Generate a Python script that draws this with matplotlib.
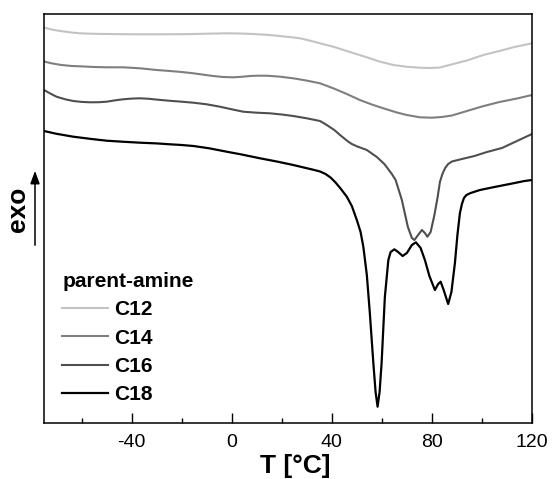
import matplotlib
matplotlib.use("Agg")
import matplotlib.pyplot as plt
from matplotlib.ticker import MultipleLocator, FixedLocator

plt.rcParams['font.family'] = ['Liberation Sans', 'DejaVu Sans']
plt.rcParams['axes.unicode_minus'] = False

# DSC heating traces (heat flow, arbitrary units, curves offset vertically)
t_c12 = [-75, -72, -68.6, -64, -60.6, -55, -50, -43, -36.6, -28.6, -20, -15.3, -8, -2,
         3, 8.6, 14, 18, 23, 27.3, 31, 35.3, 40.6, 47, 54, 59, 64.6, 70, 75.2, 79, 83,
         87, 94, 100.5, 107, 113, 120]
hf_c12 = [-2.75, -2.95, -3.10, -3.25, -3.33, -3.38, -3.40, -3.42, -3.43, -3.43, -3.42,
          -3.40, -3.36, -3.33, -3.35, -3.40, -3.48, -3.57, -3.70, -3.83, -4.05, -4.33,
          -4.67, -5.18, -5.73, -6.15, -6.50, -6.68, -6.77, -6.80, -6.76, -6.50, -6.05,
          -5.50, -5.10, -4.70, -4.33]

t_c14 = [-75, -72, -68.6, -64, -60.6, -55, -50, -43.4, -36.6, -30, -24.7, -20, -15.3,
         -11, -7.4, -3.5, 0.6, 4, 7.3, 10.5, 14, 19, 24.6, 30, 35.3, 40.6, 46, 51.2, 56,
         60.6, 66, 70, 75.2, 80, 84, 88, 94, 100, 107, 114, 120]
hf_c14 = [-6.15, -6.33, -6.48, -6.60, -6.63, -6.70, -6.73, -6.73, -6.83, -7.00, -7.10,
          -7.20, -7.33, -7.48, -7.60, -7.70, -7.73, -7.68, -7.60, -7.57, -7.57, -7.66,
          -7.83, -8.06, -8.33, -8.83, -9.40, -10.00, -10.45, -10.83, -11.25, -11.50,
          -11.73, -11.77, -11.70, -11.55, -11.10, -10.65, -10.20, -9.85, -9.50]

t_c16 = [-75, -72.5, -70, -66.5, -63.3, -60, -56.6, -53, -50, -46.5, -43.4, -40, -36.6,
         -33, -30, -24.7, -20, -15.3, -10, -4.7, 0, 4.6, 10, 15.3, 20, 24.6, 30, 35.3, 38,
         41, 43.3, 45, 46.5, 48, 50, 54, 58, 61, 64, 65.5, 68, 70.4, 72, 73, 74.5, 76,
         77.2, 78.2, 79.5, 81, 82.3, 83.2, 84.2, 85.3, 86.5, 88, 92, 97, 102, 108, 114, 120]
hf_c16 = [-9.00, -9.35, -9.67, -9.93, -10.10, -10.19, -10.23, -10.22, -10.17, -10.03,
          -9.93, -9.86, -9.83, -9.88, -9.96, -10.08, -10.17, -10.27, -10.43, -10.67,
          -10.93, -11.17, -11.27, -11.33, -11.45, -11.60, -11.83, -12.10, -12.50, -13.00,
          -13.50, -13.85, -14.15, -14.40, -14.63, -15.00, -15.70, -16.40, -17.40, -18.00,
          -20.00, -22.70, -23.80, -24.00, -23.50, -23.00, -23.30, -23.67, -23.20, -21.50,
          -19.70, -18.20, -17.40, -16.80, -16.40, -16.15, -15.90, -15.60, -15.20, -14.80,
          -14.10, -13.40]

t_c18 = [-75, -70, -63.3, -56, -50, -43, -36.6, -30, -24.7, -20, -15.3, -9, -2, 4, 11.3,
         18, 24.6, 30, 33, 35.3, 37.5, 39.5, 41.5, 43.5, 46, 48, 50, 51.5, 52.6, 54, 55.2,
         56.6, 57.5, 58.3, 59.1, 59.9, 61.2, 62.6, 63.5, 65, 66.5, 68.3, 70, 72, 73.6,
         75.5, 77.2, 79, 81.2, 82.5, 83.5, 84.7, 86.5, 87.8, 89.2, 90.2, 91.2, 92, 92.8,
         93.8, 95.5, 99.2, 105, 112.5, 117, 120]
hf_c18 = [-13.10, -13.38, -13.67, -13.90, -14.07, -14.18, -14.27, -14.34, -14.43, -14.50,
          -14.60, -14.83, -15.17, -15.45, -15.83, -16.15, -16.50, -16.82, -17.00, -17.15,
          -17.40, -17.75, -18.25, -18.85, -19.67, -20.60, -22.00, -23.20, -24.67, -27.50,
          -31.30, -36.30, -39.20, -40.67, -39.20, -36.30, -29.70, -26.00, -25.20, -24.93,
          -25.20, -25.60, -25.30, -24.50, -24.23, -24.80, -26.00, -27.60, -29.00, -28.40,
          -28.17, -29.00, -30.40, -29.20, -26.30, -23.50, -21.30, -20.40, -19.80, -19.50,
          -19.30, -19.00, -18.70, -18.33, -18.10, -18.00]

labels = ['C12', 'C14', 'C16', 'C18']
colors = ['#c3c3c3', '#7f7f7f', '#4f4f4f', '#000000']
widths = [1.5, 1.5, 1.5, 1.6]
x_ticks = [-40, 0, 40, 80, 120]

fig = plt.figure(figsize=(5.52, 4.79), dpi=100)
ax = fig.add_axes([44 / 552, 1 - 423 / 479, (532 - 44) / 552, (423 - 14) / 479])

series = [(t_c12, hf_c12), (t_c14, hf_c14), (t_c16, hf_c16), (t_c18, hf_c18)]
for (t, hf), lab, col, lw in zip(series, labels, colors, widths):
    ax.plot(t, hf, color=col, lw=lw, label=lab, solid_joinstyle='round')

ax.set_xlim(-75, 120)
ax.set_ylim(-42.3, -1.4)
ax.xaxis.set_major_locator(FixedLocator(x_ticks))
ax.xaxis.set_minor_locator(MultipleLocator(20))
ax.tick_params(axis='x', which='major', direction='in', length=7.5, width=1,
               labelsize=14, pad=8, top=False)
ax.tick_params(axis='x', which='minor', direction='in', length=3.5, width=1, top=False)
ax.tick_params(axis='y', left=False, right=False, labelleft=False)
for sp in ax.spines.values():
    sp.set_linewidth(1.1)

fig.text(295 / 552, 1 - 473 / 479, 'T [°C]', ha='center', va='baseline',
         fontsize=19, fontweight='bold')

# "exo" direction indicator
fig.text(18 / 552, 0.5626, 'exo', rotation=90, ha='center', va='center',
         fontsize=19, fontweight='bold')
fig.add_artist(matplotlib.patches.FancyArrowPatch(
    (35 / 552, 1 - 248 / 479), (35 / 552, 1 - 168 / 479),
    transform=fig.transFigure, arrowstyle='-|>,head_length=0.55,head_width=0.2',
    mutation_scale=14, color='black', lw=1.1))

leg = ax.legend(loc='lower left', bbox_to_anchor=(0.012, 0.015), frameon=False,
                title='parent-amine', prop={'size': 15, 'weight': 'bold'},
                title_fontproperties={'size': 15, 'weight': 'bold'},
                handlelength=2.2, handletextpad=0.3, labelspacing=0.45,
                borderaxespad=0.2)
leg._legend_box.align = 'left'

fig.savefig('out.png', dpi=100)
